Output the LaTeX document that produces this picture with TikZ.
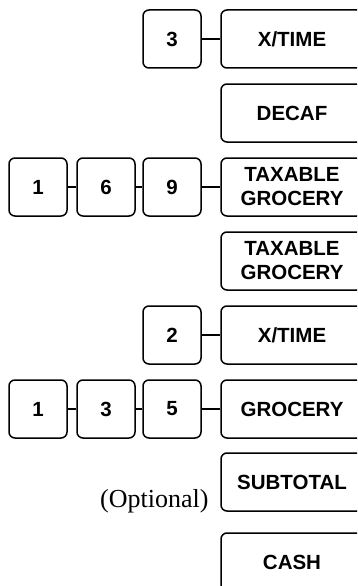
\documentclass[tikz,border=0pt]{standalone}
\usepackage{fontspec}
\setmainfont{Liberation Serif}
\setsansfont{Liberation Sans}
\tikzset{
  key box/.style={draw, line width=1.5pt, rounded corners=6pt, minimum width=58pt, minimum height=58pt, inner sep=0pt, font=\sffamily\bfseries\fontsize{20.5}{24}\selectfont},
  func box/.style={key box, minimum width=142pt, align=center},
  key link/.style={draw, line width=1.5pt},
  note label/.style={font=\fontsize{26}{30}\selectfont},
}

\begin{document}
\begin{tikzpicture}[x=1pt,y=-1pt]
  \useasboundingbox (0,0) rectangle (357,586);
  \clip (0,0) rectangle (357,586);

  % 3 X/TIME
  \node[key box] (k3a) at (172,39) {3};
  \node[func box] (xtime1) at (292,39) {X/TIME};
  \draw[key link] (k3a) -- (xtime1);

  \node[func box] (decaf) at (292,113) {DECAF};

  % 1 6 9 TAXABLE GROCERY
  \node[key box] (k1a) at (38,187) {1};
  \node[key box] (k6) at (106,187) {6};
  \node[key box] (k9) at (172,187) {9};
  \node[func box] (taxgroc1) at (292,187) {TAXABLE\\GROCERY};
  \draw[key link] (k1a) -- (k6) (k6) -- (k9) (k9) -- (taxgroc1);

  \node[func box] (taxgroc2) at (292,261) {TAXABLE\\GROCERY};

  % 2 X/TIME
  \node[key box] (k2) at (172,335) {2};
  \node[func box] (xtime2) at (292,335) {X/TIME};
  \draw[key link] (k2) -- (xtime2);

  % 1 3 5 GROCERY
  \node[key box] (k1b) at (38,409) {1};
  \node[key box] (k3b) at (106,409) {3};
  \node[key box] (k5) at (172,409) {5};
  \node[func box] (groc) at (292,409) {GROCERY};
  \draw[key link] (k1b) -- (k3b) (k3b) -- (k5) (k5) -- (groc);

  \node[func box] (subtotal) at (292,482) {SUBTOTAL};
  \node[note label, anchor=base east] (optional) at (212,507) {(Optional)};

  \node[func box] (cash) at (292,562) {CASH};
\end{tikzpicture}
\end{document}
